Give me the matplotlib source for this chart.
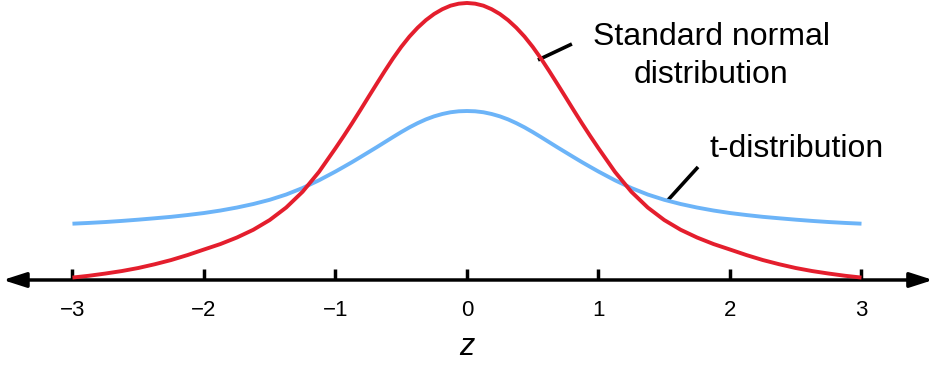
import matplotlib
matplotlib.use('Agg')
import matplotlib.pyplot as plt

# values (heights in density units)
z = [-3, -2.875, -2.75, -2.625, -2.5, -2.375, -2.25, -2.125, -2, -1.875,
     -1.75, -1.625, -1.5, -1.375, -1.25, -1.125, -1, -0.9375, -0.875,
     -0.8125, -0.75, -0.6875, -0.625, -0.5625, -0.5, -0.4375, -0.375,
     -0.3125, -0.25, -0.1875, -0.125, -0.0625, 0, 0.0625, 0.125, 0.1875,
     0.25, 0.3125, 0.375, 0.4375, 0.5, 0.5625, 0.625, 0.6875, 0.75, 0.8125,
     0.875, 0.9375, 1, 1.125, 1.25, 1.375, 1.5, 1.625, 1.75, 1.875, 2,
     2.125, 2.25, 2.375, 2.5, 2.625, 2.75, 2.875, 3]
normal = [0.0035, 0.0061, 0.0093, 0.0129, 0.0173, 0.0227, 0.0288, 0.0360,
          0.0440, 0.0519, 0.0613, 0.0725, 0.0866, 0.1046, 0.1274, 0.1562,
          0.1902, 0.2078, 0.2260, 0.2448, 0.2640, 0.2830, 0.3018, 0.3199,
          0.3366, 0.3515, 0.3643, 0.3752, 0.3841, 0.3910, 0.3961, 0.3990,
          0.4000, 0.3990, 0.3961, 0.3910, 0.3841, 0.3752, 0.3643, 0.3515,
          0.3366, 0.3199, 0.3018, 0.2830, 0.2640, 0.2448, 0.2260, 0.2078,
          0.1902, 0.1562, 0.1274, 0.1046, 0.0866, 0.0725, 0.0613, 0.0519,
          0.0440, 0.0360, 0.0288, 0.0227, 0.0173, 0.0129, 0.0093, 0.0061,
          0.0035]
t_dist = [0.0813, 0.0824, 0.0837, 0.0853, 0.0871, 0.0891, 0.0912, 0.0938,
          0.0967, 0.1003, 0.1046, 0.1097, 0.1158, 0.1234, 0.1328, 0.1440,
          0.1566, 0.1633, 0.1701, 0.1772, 0.1844, 0.1916, 0.1990, 0.2064,
          0.2136, 0.2204, 0.2265, 0.2319, 0.2363, 0.2397, 0.2422, 0.2436,
          0.2440, 0.2436, 0.2422, 0.2397, 0.2363, 0.2319, 0.2265, 0.2204,
          0.2136, 0.2064, 0.1990, 0.1916, 0.1844, 0.1772, 0.1701, 0.1633,
          0.1566, 0.1440, 0.1328, 0.1234, 0.1158, 0.1097, 0.1046, 0.1003,
          0.0967, 0.0938, 0.0912, 0.0891, 0.0871, 0.0853, 0.0837, 0.0824,
          0.0813]
ticks = [-3, -2, -1, 0, 1, 2, 3]
tick_labels = ['\u22123', '\u22122', '\u22121', '0', '1', '2', '3']

RED = '#e41e2d'
BLUE = '#6cb4f8'

plt.rcParams['font.family'] = ['Liberation Sans', 'DejaVu Sans']


def main():
    fig = plt.figure(figsize=(9.35, 3.73), dpi=100)
    ax = fig.add_axes([0, 0, 1, 1])
    ax.set_xlim(-3.551, 3.559)
    ax.set_ylim(-0.1343, 0.4043)

    for side in ('left', 'right', 'top', 'bottom'):
        ax.spines[side].set_visible(False)
    ax.spines['bottom'].set_position(('data', 0))
    ax.set_yticks([])
    ax.set_xticks(ticks)
    ax.tick_params(axis='x', direction='in', length=8, width=2.5,
                   color='black', labelbottom=False)
    for t, lab in zip(ticks, tick_labels):
        ax.text(t, -0.052, lab, ha='center', va='baseline', fontsize=16)

    # number line with arrows on both ends
    ax.annotate('', xy=(3.544, 0), xytext=(-3.529, 0),
                arrowprops=dict(arrowstyle='<|-|>,head_length=1.4,head_width=0.45',
                                lw=2.5, color='black', shrinkA=0, shrinkB=0,
                                mutation_scale=10))

    ax.plot(z, t_dist, color=BLUE, lw=2.8, solid_joinstyle='round',
            solid_capstyle='butt', zorder=3, clip_on=False)
    ax.plot(z, normal, color=RED, lw=2.8, solid_joinstyle='round',
            solid_capstyle='butt', zorder=4, clip_on=False)

    # labels with leader lines
    ax.plot([0.540, 0.798], [0.3177, 0.3408], color='black', lw=2.6,
            solid_capstyle='butt')
    ax.text(1.856, 0.3394, 'Standard normal', ha='center', va='baseline',
            fontsize=23)
    ax.text(1.856, 0.2845, 'distribution', ha='center', va='baseline',
            fontsize=23)
    ax.plot([1.529, 1.757], [0.1155, 0.1632], color='black', lw=2.6,
            solid_capstyle='butt')
    ax.text(1.848, 0.178, 't-distribution', ha='left', va='baseline',
            fontsize=23)

    ax.text(0, -0.0968, 'z', style='italic', fontsize=22, ha='center',
            va='center')

    fig.savefig('out.png', dpi=100)
    plt.close(fig)


if __name__ == '__main__':
    main()
